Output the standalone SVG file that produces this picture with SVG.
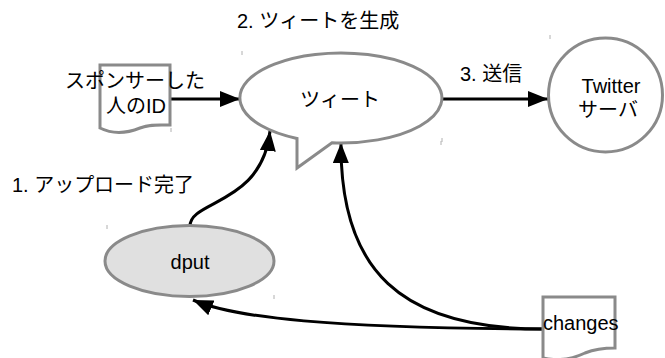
<svg xmlns="http://www.w3.org/2000/svg" width="665" height="358" viewBox="0 0 665 358">
<defs>
<style>
.shape{fill:#ffffff;stroke:#8a8a8a;stroke-width:3;stroke-linejoin:miter}
.grey{fill:#e0e0e0}
.t{font-family:"Liberation Sans","Noto Sans CJK JP",sans-serif;font-size:20px;fill:#000000}
.c{stroke:#000000;stroke-width:3;fill:none}
.tick{stroke:#b0b0b0;stroke-width:1}
</style>
<marker id="arr" markerUnits="userSpaceOnUse" markerWidth="20" markerHeight="16" refX="20" refY="8" orient="auto">
<path d="M0,0 L20,8 L0,16 Z" fill="#000000"/>
</marker>
</defs>
<rect width="665" height="358" fill="#ffffff"/>

<g id="connectors">
<path class="c" d="M170,99 L240,99" marker-end="url(#arr)"/>
<path class="c" d="M442,99 L548,99" marker-end="url(#arr)"/>
<path class="c" d="M190,226 C190,200 262,205 270,131" marker-end="url(#arr)"/>
<path class="c" d="M543,329 C400,329 340,270 341,143" marker-end="url(#arr)"/>
<path class="c" d="M543,329 C330,328 235,318 193,300" marker-end="url(#arr)"/>
</g>

<g id="sponsor-id">
<path class="shape" d="M100,65 H170 V125 C158,125 150,124 140,128 C125,134 112,134 100,128 Z"/>
<text class="t" x="135" y="88" text-anchor="middle">スポンサーした</text>
<text class="t" x="136" y="112.5" text-anchor="middle">人のID</text>
</g>

<g id="tweet">
<path class="shape" d="M297,138.5 L297,168 L332,142.8 A101,45 0 1 0 297,138.5 Z"/>
<text class="t" x="340" y="107" text-anchor="middle">ツィート</text>
</g>

<g id="twitter-server">
<circle class="shape" cx="605.5" cy="95" r="57"/>
<text class="t" x="611" y="93" text-anchor="middle">Twitter</text>
<text class="t" x="608" y="117" text-anchor="middle">サーバ</text>
</g>

<g id="dput">
<ellipse class="shape grey" cx="189.5" cy="261" rx="84.5" ry="35.5"/>
<text class="t" x="190" y="269" text-anchor="middle">dput</text>
</g>

<g id="changes">
<path class="shape" d="M543,297 H615 V348 C603,348 595,349 585,353 C570,360 556,361 543,358 Z"/>
<text class="t" x="543" y="330">changes</text>
</g>

<g id="labels">
<text class="t" x="237" y="28">2. ツィートを生成</text>
<text class="t" x="460" y="81">3. 送信</text>
<text class="t" x="12" y="191.5" textLength="182" lengthAdjust="spacing">1. アップロード完了</text>
</g>

<g id="ticks">
<line class="tick" x1="242" y1="51" x2="242" y2="55"/>
<line class="tick" x1="441" y1="141" x2="441" y2="145"/>
<line class="tick" x1="171" y1="128" x2="171" y2="132"/>
<line class="tick" x1="550" y1="35" x2="550" y2="39"/>
<line class="tick" x1="442" y1="138" x2="442" y2="142"/>
<line class="tick" x1="107" y1="225" x2="107" y2="229"/>
<line class="tick" x1="274" y1="295" x2="274" y2="299"/>
</g>
</svg>
